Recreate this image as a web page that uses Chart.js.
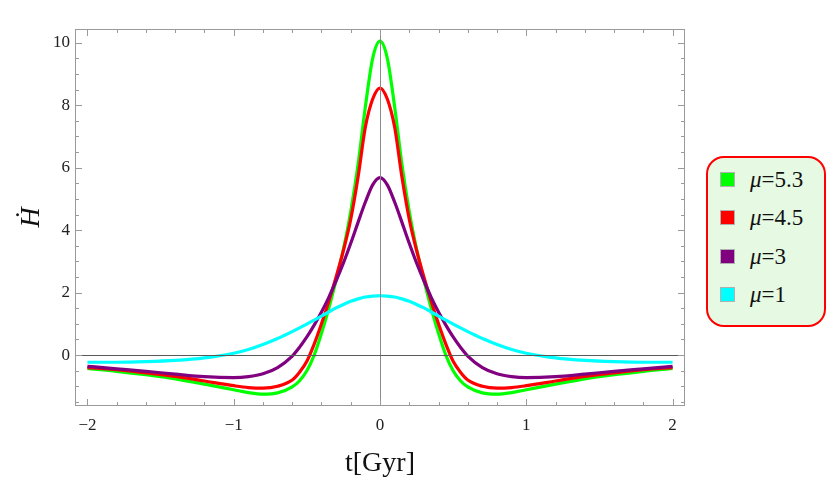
<!DOCTYPE html>
<html>
<head>
<meta charset="utf-8">
<script src="https://cdn.jsdelivr.net/npm/chart.js@4.4.0/dist/chart.umd.min.js"></script>
<style>
  html, body { margin: 0; padding: 0; background: #fff; }
  #wrap { position: relative; width: 830px; height: 484px; }
  #legend {
    position: absolute; left: 706px; top: 156px; width: 120px; height: 171px;
    box-sizing: border-box; border: 2.5px solid #ff0000; border-radius: 18px;
    background: #e6f9e3; font-family: "Liberation Serif", "Times New Roman", "DejaVu Serif", serif;
    font-size: 23px; color: #111;
  }
  #legend .row { position: absolute; left: 12px; height: 16px; line-height: 16px; white-space: nowrap; }
  #legend .sw { display: inline-block; width: 15px; height: 15px; box-sizing: border-box;
    border: 1px solid #b0b0b0; vertical-align: top; margin-right: 15px; }
  #legend i { font-style: italic; }
</style>
</head>
<body>
<div id="wrap">
  <canvas id="chart" width="830" height="484"></canvas>
  <div id="legend"></div>
</div>
<script>
// sample times (Gyr)
var tValues = [-2, -1.8, -1.6, -1.4, -1.2, -1, -0.9, -0.8, -0.7, -0.6, -0.55, -0.5, -0.45, -0.4, -0.35, -0.3, -0.25, -0.2, -0.15, -0.1, -0.05,
  0, 0.05, 0.1, 0.15, 0.2, 0.25, 0.3, 0.35, 0.4, 0.45, 0.5, 0.55, 0.6, 0.7, 0.8, 0.9, 1, 1.2, 1.4, 1.6, 1.8, 2];

// H-dot for each mu
var mu53 = [-0.43, -0.52, -0.63, -0.76, -0.93, -1.11, -1.2, -1.25, -1.21, -1.02, -0.82, -0.5, 0.0, 0.7, 1.5, 2.4, 3.4, 4.6, 6.1, 7.95, 9.5,
  10.05, 9.5, 7.95, 6.1, 4.6, 3.4, 2.4, 1.5, 0.7, 0.0, -0.5, -0.82, -1.02, -1.21, -1.25, -1.2, -1.11, -0.93, -0.76, -0.63, -0.52, -0.43];
var mu45 = [-0.4, -0.47, -0.57, -0.68, -0.83, -0.98, -1.04, -1.06, -1.0, -0.8, -0.55, -0.2, 0.35, 1.0, 1.72, 2.5, 3.35, 4.35, 5.7, 7.3, 8.2,
  8.55, 8.2, 7.3, 5.7, 4.35, 3.35, 2.5, 1.72, 1.0, 0.35, -0.2, -0.55, -0.8, -1.0, -1.06, -1.04, -0.98, -0.83, -0.68, -0.57, -0.47, -0.4];
var mu3 = [-0.36, -0.44, -0.52, -0.61, -0.69, -0.72, -0.69, -0.6, -0.4, -0.03, 0.25, 0.58, 0.96, 1.38, 1.85, 2.38, 2.95, 3.58, 4.25, 4.9, 5.45,
  5.68, 5.45, 4.9, 4.25, 3.58, 2.95, 2.38, 1.85, 1.38, 0.96, 0.58, 0.25, -0.03, -0.4, -0.6, -0.69, -0.72, -0.69, -0.61, -0.52, -0.44, -0.36];
var mu1 = [-0.23, -0.23, -0.21, -0.17, -0.09, 0.06, 0.18, 0.34, 0.53, 0.75, 0.87, 0.99, 1.12, 1.25, 1.38, 1.51, 1.62, 1.72, 1.8, 1.86, 1.89,
  1.9, 1.89, 1.86, 1.8, 1.72, 1.62, 1.51, 1.38, 1.25, 1.12, 0.99, 0.87, 0.75, 0.53, 0.34, 0.18, 0.06, -0.09, -0.17, -0.21, -0.23, -0.23];

var seriesNames = ['5.3', '4.5', '3', '1'];
var seriesColors = ['#00ff00', '#ff0000', '#800080', '#00ffff'];

var xMajorTicks = [-2, -1, 0, 1, 2];
var yMajorTicks = [0, 2, 4, 6, 8, 10];

var serif = '"Liberation Serif", "Times New Roman", "DejaVu Serif", serif';

function toPoints(vals) {
  return tValues.map(function(t, i) { return {x: t, y: vals[i]}; });
}

function fmt(v) {
  return v < 0 ? '\u2212' + Math.abs(v) : String(v);
}

// frame with inward ticks on all sides, plus the zero axes
var frameTicks = {
  id: 'frameTicks',
  afterDatasetsDraw: function(chart) {
    var ctx = chart.ctx;
    var a = chart.chartArea;
    var xs = chart.scales.x;
    var ys = chart.scales.y;
    var i, p, v;
    ctx.save();

    ctx.lineWidth = 1;
    ctx.strokeStyle = '#8a8a8a';
    ctx.beginPath();
    p = Math.round(xs.getPixelForValue(0)) + 0.5;
    ctx.moveTo(p, a.top);
    ctx.lineTo(p, a.bottom);
    ctx.stroke();
    ctx.strokeStyle = '#5a5a5a';
    ctx.beginPath();
    p = Math.round(ys.getPixelForValue(0)) + 0.5;
    ctx.moveTo(a.left, p);
    ctx.lineTo(a.right, p);
    ctx.stroke();

    ctx.strokeStyle = '#9a9a9a';
    ctx.beginPath();
    for (i = -10; i <= 10; i++) {
      v = i * 0.2;
      var len = (i % 5 === 0) ? 7 : 4;
      p = Math.round(xs.getPixelForValue(v)) + 0.5;
      ctx.moveTo(p, a.bottom);
      ctx.lineTo(p, a.bottom - len);
      ctx.moveTo(p, a.top);
      ctx.lineTo(p, a.top + len);
    }
    for (i = -3; i <= 20; i++) {
      v = i * 0.5;
      var ylen = (i % 4 === 0) ? 7 : 4;
      p = Math.round(ys.getPixelForValue(v)) + 0.5;
      ctx.moveTo(a.left, p);
      ctx.lineTo(a.left + ylen, p);
      ctx.moveTo(a.right, p);
      ctx.lineTo(a.right - ylen, p);
    }
    ctx.stroke();
    ctx.strokeRect(Math.round(a.left) + 0.5, Math.round(a.top) + 0.5,
      Math.round(a.right - a.left) - 1, Math.round(a.bottom - a.top) - 1);
    ctx.restore();
  }
};

var datasets = [mu53, mu45, mu3, mu1].map(function(vals, i) {
  return {
    label: '\u03bc=' + seriesNames[i],
    data: toPoints(vals),
    borderColor: seriesColors[i],
    backgroundColor: seriesColors[i],
    borderWidth: 3.2,
    pointRadius: 0,
    cubicInterpolationMode: 'monotone',
    fill: false,
    order: 4 - i
  };
});

var chart = new Chart(document.getElementById('chart'), {
  type: 'line',
  data: {datasets: datasets},
  options: {
    responsive: false,
    animation: false,
    devicePixelRatio: 1,
    layout: {padding: {top: 29, right: 145, left: 0, bottom: 0}},
    plugins: {legend: {display: false}, tooltip: {enabled: false}},
    scales: {
      x: {
        type: 'linear',
        min: -2.085,
        max: 2.085,
        afterBuildTicks: function(s) { s.ticks = xMajorTicks.map(function(v) { return {value: v}; }); },
        afterFit: function(s) { s.height = 78; },
        grid: {display: false, drawTicks: false},
        border: {display: false},
        ticks: {
          autoSkip: false, maxRotation: 0, padding: 9, color: '#222',
          font: {family: serif, size: 17},
          callback: function(v) { return fmt(v); }
        },
        title: {
          display: true, text: 't[Gyr]', color: '#111',
          font: {family: serif, size: 28},
          padding: {top: 0, bottom: 4}
        }
      },
      y: {
        type: 'linear',
        min: -1.63,
        max: 10.44,
        afterBuildTicks: function(s) { s.ticks = yMajorTicks.map(function(v) { return {value: v}; }); },
        afterFit: function(s) { s.width = 75; },
        grid: {display: false, drawTicks: false},
        border: {display: false},
        ticks: {
          autoSkip: false, padding: 5, color: '#222',
          font: {family: serif, size: 17},
          callback: function(v) { return fmt(v); }
        },
        title: {
          display: true, text: 'H\u0307', color: '#111',
          font: {family: serif, size: 28, style: 'italic'},
          padding: {top: 15, bottom: 0}
        }
      }
    }
  },
  plugins: [frameTicks]
});

// legend box built from the chart's datasets
var legend = document.getElementById('legend');
var rowTops = [13.5, 52, 90.5, 129];
chart.data.datasets.forEach(function(ds, i) {
  var row = document.createElement('div');
  row.className = 'row';
  row.style.top = rowTops[i] + 'px';
  row.innerHTML = '<span class="sw" style="background:' + ds.borderColor + '"></span><i>\u03bc</i>=' + seriesNames[i];
  legend.appendChild(row);
});
</script>
</body>
</html>
